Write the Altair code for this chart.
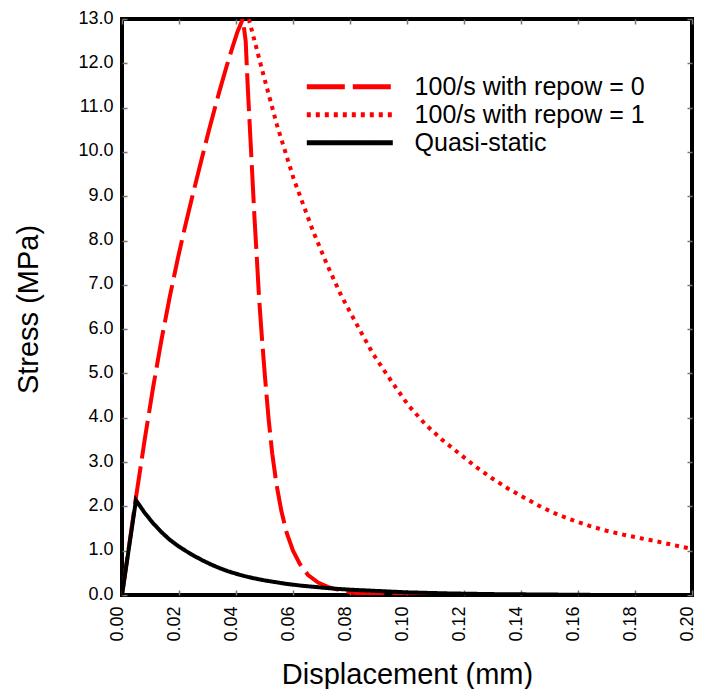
import altair as alt
import pandas as pd

series_names = ["100/s with repow = 0", "100/s with repow = 1", "Quasi-static"]

repow0_x = [0, 0.0049, 0.0080, 0.0109, 0.0138, 0.0167, 0.0195, 0.0220, 0.0245,
            0.0271, 0.0305, 0.0341, 0.0365, 0.0385, 0.0405, 0.0424,
            0.0434, 0.0441, 0.0449, 0.0457, 0.0465, 0.0474, 0.0481, 0.0491,
            0.0502, 0.0514, 0.0527, 0.0542, 0.0559, 0.0578, 0.0600, 0.0624,
            0.0653, 0.0688, 0.0728, 0.0770, 0.0815, 0.0865, 0.0950, 0.1200,
            0.1600, 0.2000]
repow0_y = [0, 2.20, 3.52, 4.68, 5.74, 6.71, 7.57, 8.28, 8.95,
            9.62, 10.49, 11.35, 11.89, 12.31, 12.71, 13.0,
            12.5, 11.5, 10.5, 9.5, 8.5, 7.5, 6.7, 5.8,
            4.9, 4.0, 3.2, 2.5, 1.9, 1.4, 1.0, 0.7,
            0.45, 0.28, 0.17, 0.10, 0.05, 0.02, 0.0, 0.0,
            0.0, 0.0]

repow1_x = [0.0445, 0.0497, 0.0544, 0.0602, 0.0671, 0.0720, 0.0769, 0.0820, 0.0880,
            0.0950, 0.1005, 0.1066, 0.1124, 0.1182, 0.1240, 0.1297, 0.1355, 0.1413,
            0.1470, 0.1530, 0.1590, 0.1645, 0.1700, 0.1760, 0.1820, 0.1877, 0.1940,
            0.2000]
repow1_y = [13.0, 11.72, 10.6, 9.4, 8.2, 7.45, 6.76, 6.15, 5.45,
            4.78, 4.28, 3.84, 3.50, 3.20, 2.90, 2.64, 2.40, 2.19,
            1.99, 1.81, 1.67, 1.55, 1.45, 1.36, 1.28, 1.21, 1.12,
            1.04]

quasi_x = [0, 0.0049, 0.0079, 0.0109, 0.0140, 0.0167, 0.0196, 0.0225, 0.0254,
           0.0283, 0.0312, 0.0341, 0.0370, 0.0400, 0.0428, 0.0457, 0.0500, 0.0573,
           0.0630, 0.0689, 0.0750, 0.0800, 0.0900, 0.1000, 0.1150, 0.1300, 0.1500,
           0.1700, 0.2000]
quasi_y = [0, 2.14, 1.86, 1.62, 1.41, 1.25, 1.11, 0.99, 0.88,
           0.78, 0.69, 0.61, 0.54, 0.48, 0.43, 0.385, 0.33, 0.255,
           0.21, 0.175, 0.14, 0.12, 0.09, 0.06, 0.035, 0.02, 0.01,
           0.0, 0.0]

x_ticks = [0.00, 0.02, 0.04, 0.06, 0.08, 0.10, 0.12, 0.14, 0.16, 0.18, 0.20]
y_ticks = [0.0, 1.0, 2.0, 3.0, 4.0, 5.0, 6.0, 7.0, 8.0, 9.0, 10.0, 11.0, 12.0, 13.0]

rows = []
for name, xs, ys in zip(series_names, [repow0_x, repow1_x, quasi_x], [repow0_y, repow1_y, quasi_y]):
    for i, (xv, yv) in enumerate(zip(xs, ys)):
        rows.append({"series": name, "disp": xv, "stress": yv, "idx": i})
df = pd.DataFrame(rows)

FONT = "Liberation Sans"
W, H = 570, 576
xscale = alt.Scale(domain=[0, 0.2], nice=False, zero=False)
yscale = alt.Scale(domain=[0, 13], nice=False)

legend = alt.Legend(title=None, orient="none", legendX=213.3, legendY=53.2,
                    symbolType="M-3.66,0L3.66,0", symbolSize=552, symbolStrokeWidth=5,
                    labelFontSize=25, labelFont=FONT, labelColor="black",
                    labelOffset=50.3, labelLimit=400, rowPadding=0, padding=0)

lines = alt.Chart(df).mark_line(strokeWidth=4, clip=True).encode(
    x=alt.X("disp:Q", scale=xscale, axis=alt.Axis(
        values=x_ticks, format=".2f", labelAngle=270, labelAlign="right",
        labelBaseline="alphabetic", labelPadding=11, ticks=False, domain=False,
        grid=False, labelFontSize=18, labelFont=FONT, labelColor="black",
        title="Displacement (mm)", titleFontSize=29, titleFont=FONT,
        titleFontWeight="normal", titleColor="black", titleY=88,
        titleBaseline="alphabetic")),
    y=alt.Y("stress:Q", scale=yscale, axis=alt.Axis(
        values=y_ticks, format=".1f", labelPadding=9, labelOffset=-1,
        ticks=False, domain=False, grid=False, labelFontSize=18, labelFont=FONT,
        labelColor="black", title="Stress (MPa)", titleFontSize=29,
        titleFont=FONT, titleFontWeight="normal", titleColor="black",
        titleX=-85, titleY=290, titleBaseline="alphabetic")),
    color=alt.Color("series:N", scale=alt.Scale(domain=series_names,
                    range=["#ff0000", "#ff0000", "#000000"]), legend=legend),
    strokeDash=alt.StrokeDash("series:N", scale=alt.Scale(domain=series_names,
                    range=[[38, 8], [4, 5], [1, 0]]), legend=legend),
    order="idx:Q",
)

def tick_layer(xorient, yorient):
    return alt.Chart(df).mark_point(opacity=0).encode(
        x=alt.X("disp:Q", scale=xscale, axis=alt.Axis(
            orient=xorient, offset=-H, values=x_ticks, labels=False,
            domain=False, grid=False, ticks=True, tickSize=5,
            tickColor="#777777", tickWidth=1.5, title=None)),
        y=alt.Y("stress:Q", scale=yscale, axis=alt.Axis(
            orient=yorient, offset=-W, values=y_ticks, labels=False,
            domain=False, grid=False, ticks=True, tickSize=5,
            tickColor="#777777", tickWidth=1.5, title=None)),
    )

chart = alt.layer(
    tick_layer("top", "right"),
    tick_layer("bottom", "left"),
    lines,
).resolve_axis(x="independent", y="independent").properties(
    width=W, height=H, autosize="none",
    padding={"left": 114, "top": 11, "right": 4, "bottom": 94},
).configure_view(stroke="black", strokeWidth=4)

chart.save("out.html", embed_options={"renderer": "svg", "actions": False})
